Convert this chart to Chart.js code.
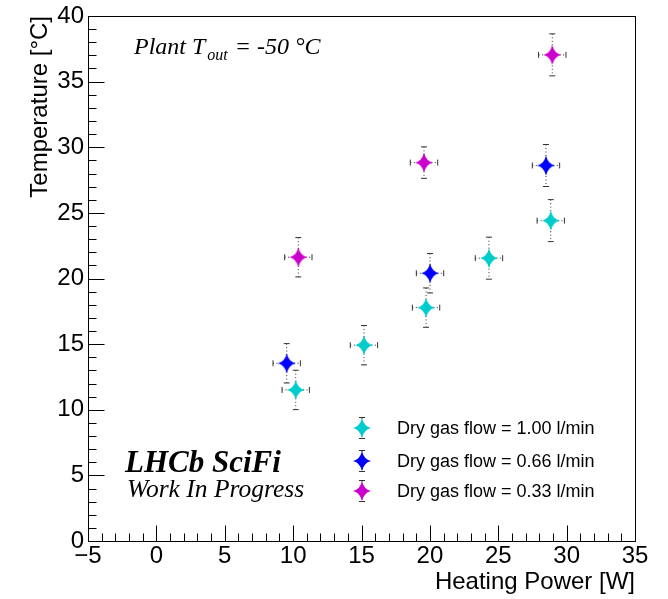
<!DOCTYPE html>
<html><head><meta charset="utf-8">
<script src="https://cdn.jsdelivr.net/npm/chart.js@4/dist/chart.umd.min.js"></script>
<style>html,body{margin:0;padding:0;background:#fff}#wrap{width:668px;height:599px;position:relative}</style>
</head><body><div id="wrap"><canvas id="c" width="668" height="599"></canvas></div>
<script>
// ---- data ----
const seriesLabels = ["Dry gas flow = 1.00 l/min", "Dry gas flow = 0.66 l/min", "Dry gas flow = 0.33 l/min"];
const power100 = [10.19, 15.18, 19.72, 24.32, 28.84];
const temp100  = [11.51, 14.92, 17.78, 21.55, 24.41];
const errP100  = [1.0, 1.0, 1.0, 1.0, 1.0];
const errT100  = [1.5, 1.5, 1.5, 1.6, 1.6];
const power066 = [9.53, 20.01, 28.49];
const temp066  = [13.54, 20.40, 28.61];
const errP066  = [1.0, 1.0, 1.0];
const errT066  = [1.5, 1.5, 1.6];
const power033 = [10.38, 19.57, 28.95];
const temp033  = [21.62, 28.83, 37.04];
const errP033  = [1.0, 1.0, 1.0];
const errT033  = [1.5, 1.2, 1.6];
const xMajorTicks = [-5, 0, 5, 10, 15, 20, 25, 30, 35];
const yMajorTicks = [0, 5, 10, 15, 20, 25, 30, 35, 40];
const xTitle = "Heating Power [W]";
const yTitle = "Temperature [°C]";

const colors = ["#00CCCC", "#0000FF", "#CC00CC"];

function makeStar(color) {
  const c = document.createElement('canvas');
  c.width = 22; c.height = 24;
  const g = c.getContext('2d');
  const cx = 11, cy = 12, w = 9, h = 10, k = 1.8;
  g.fillStyle = color;
  g.beginPath();
  g.moveTo(cx, cy - h);
  g.quadraticCurveTo(cx + k, cy - k, cx + w, cy);
  g.quadraticCurveTo(cx + k, cy + k, cx, cy + h);
  g.quadraticCurveTo(cx - k, cy + k, cx - w, cy);
  g.quadraticCurveTo(cx - k, cy - k, cx, cy - h);
  g.closePath();
  g.fill();
  return c;
}
const stars = colors.map(makeStar);

function pts(xs, ys, exs, eys) {
  return xs.map((x, i) => ({x: x, y: ys[i], ex: exs[i], ey: eys[i]}));
}

const datasets = [
  {label: seriesLabels[0], data: pts(power100, temp100, errP100, errT100), pointStyle: stars[0], backgroundColor: colors[0], borderColor: colors[0]},
  {label: seriesLabels[1], data: pts(power066, temp066, errP066, errT066), pointStyle: stars[1], backgroundColor: colors[1], borderColor: colors[1]},
  {label: seriesLabels[2], data: pts(power033, temp033, errP033, errT033), pointStyle: stars[2], backgroundColor: colors[2], borderColor: colors[2]}
];

function seg(ctx, x1, y1, x2, y2) {
  ctx.beginPath(); ctx.moveTo(x1, y1); ctx.lineTo(x2, y2); ctx.stroke();
}

const errorBars = {
  id: 'errorBars',
  beforeDatasetsDraw(chart) {
    const ctx = chart.ctx, xs = chart.scales.x, ys = chart.scales.y;
    ctx.save();
    ctx.strokeStyle = '#333';
    ctx.lineWidth = 1;
    chart.data.datasets.forEach(ds => {
      ds.data.forEach(p => {
        const px = xs.getPixelForValue(p.x), py = ys.getPixelForValue(p.y);
        const x1 = xs.getPixelForValue(p.x - p.ex), x2 = xs.getPixelForValue(p.x + p.ex);
        const y1 = ys.getPixelForValue(p.y + p.ey), y2 = ys.getPixelForValue(p.y - p.ey);
        ctx.setLineDash([1, 2.5]);
        seg(ctx, x1, py, x2, py);
        seg(ctx, px, y1, px, y2);
        ctx.setLineDash([]);
        seg(ctx, x1, py - 3, x1, py + 3);
        seg(ctx, x2, py - 3, x2, py + 3);
        seg(ctx, px - 3, y1, px + 3, y1);
        seg(ctx, px - 3, y2, px + 3, y2);
      });
    });
    ctx.restore();
  }
};

const frameAndTicks = {
  id: 'frameAndTicks',
  afterDraw(chart) {
    const ctx = chart.ctx, a = chart.chartArea, xs = chart.scales.x, ys = chart.scales.y;
    ctx.save();
    ctx.strokeStyle = '#000';
    ctx.lineWidth = 1;
    ctx.strokeRect(Math.round(a.left) + 0.5, Math.round(a.top) + 0.5, Math.round(a.right - a.left), Math.round(a.bottom - a.top));
    const bottom = Math.round(a.bottom) + 0.5, left = Math.round(a.left) + 0.5;
    for (let v = xs.min; v <= xs.max; v += 1) {
      const px = Math.round(xs.getPixelForValue(v)) + 0.5;
      const len = (v % 5 === 0) ? 16 : 8;
      seg(ctx, px, bottom, px, bottom - len);
    }
    for (let v = ys.min; v <= ys.max; v += 1) {
      const py = Math.round(ys.getPixelForValue(v)) + 0.5;
      const len = (v % 5 === 0) ? 16 : 8;
      seg(ctx, left, py, left + len, py);
    }
    // texts
    ctx.fillStyle = '#000';
    ctx.textBaseline = 'alphabetic';
    ctx.textAlign = 'left';
    let x = 134;
    ctx.font = 'italic 24px "Liberation Serif"';
    ctx.fillText('Plant T', x, 54); x += ctx.measureText('Plant T').width + 2;
    ctx.font = 'italic 16px "Liberation Serif"';
    ctx.fillText('out', x, 60); x += ctx.measureText('out').width + 1;
    ctx.font = 'italic 24px "Liberation Serif"';
    ctx.fillText(' = -50 °C', x, 54);
    ctx.font = 'bold italic 31px "Liberation Serif"';
    ctx.fillText('LHCb SciFi', 125, 472);
    ctx.font = 'italic 25.5px "Liberation Serif"';
    ctx.fillText('Work In Progress', 127, 497);
    // legend
    const ly = [428, 461, 491];
    ctx.font = '18px "Liberation Sans"';
    ctx.textBaseline = 'middle';
    chart.data.datasets.forEach((ds, i) => {
      const mx = 362, my = ly[i];
      ctx.strokeStyle = '#333';
      ctx.setLineDash([1, 2.5]);
      seg(ctx, mx, my - 10, mx, my + 10);
      ctx.setLineDash([]);
      seg(ctx, mx - 3, my - 10.5, mx + 3, my - 10.5);
      seg(ctx, mx - 3, my + 10.5, mx + 3, my + 10.5);
      ctx.drawImage(stars[i], mx - 11, my - 12);
      ctx.fillStyle = '#000';
      ctx.fillText(ds.label, 397, my + 1);
    });
    ctx.restore();
  }
};

const tickFont = {family: '"Liberation Sans", Arial, sans-serif', size: 24, lineHeight: 1};
const titleFont = {family: '"Liberation Sans", Arial, sans-serif', size: 24, lineHeight: 1.2};
new Chart(document.getElementById('c'), {
  type: 'scatter',
  data: {datasets: datasets},
  options: {
    responsive: false,
    animation: false,
    layout: {padding: {left: 0, right: 33, top: 15.5, bottom: 0}},
    plugins: {legend: {display: false}, tooltip: {enabled: false}},
    elements: {point: {radius: 10, hoverRadius: 10}},
    scales: {
      x: {
        type: 'linear', min: -5, max: 35,
        grid: {display: false, drawTicks: false, tickLength: 0}, border: {display: false},
        afterFit: s => { s.height = 58; },
        afterBuildTicks: s => { s.ticks = xMajorTicks.map(v => ({value: v})); },
        ticks: {autoSkip: false, maxRotation: 0, padding: 3, color: '#000', font: tickFont,
          callback: v => String(v).replace('-', '\u2212')},
        title: {display: true, text: xTitle, align: 'end', color: '#000', font: titleFont, padding: {top: 0, bottom: 2}}
      },
      y: {
        type: 'linear', min: 0, max: 40,
        grid: {display: false, drawTicks: false, tickLength: 0}, border: {display: false},
        afterFit: s => { s.width = 88; },
        afterBuildTicks: s => { s.ticks = yMajorTicks.map(v => ({value: v})); },
        ticks: {autoSkip: false, padding: 4, color: '#000', font: tickFont},
        title: {display: true, text: yTitle, align: 'end', color: '#000', font: titleFont, padding: {top: 26, bottom: 0}}
      }
    }
  },
  plugins: [errorBars, frameAndTicks]
});
</script></body></html>
